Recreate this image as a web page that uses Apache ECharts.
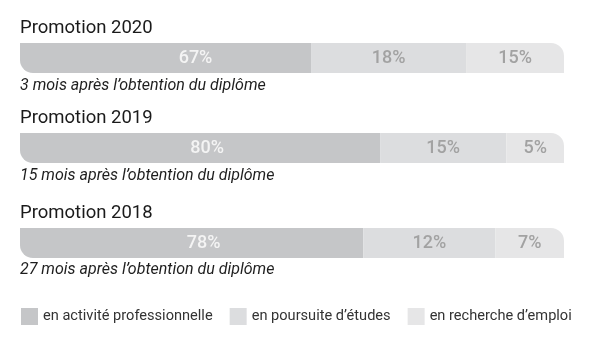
<!DOCTYPE html>
<html><head><meta charset="utf-8">
<script src="https://cdn.jsdelivr.net/npm/echarts@6/dist/echarts.min.js"></script>
<style>html,body{margin:0;padding:0;background:#fff}#c{width:605px;height:341px}</style>
</head><body><div id="c"></div>
<script>
// ---- data ----
const categories = ['Promotion 2020', 'Promotion 2019', 'Promotion 2018'];
const subtitles = ['3 mois après l\u2019obtention du diplôme', '15 mois après l\u2019obtention du diplôme', '27 mois après l\u2019obtention du diplôme'];
const seriesNames = ['en activité professionnelle', 'en poursuite d\u2019études', 'en recherche d\u2019emploi'];
// drawn segment lengths (share of bar)
const activite = [53.5, 66.2, 63.1];
const poursuite = [28.5, 23.2, 24.3];
const recherche = [18.0, 10.6, 12.6];
// printed labels
const activiteLabels = ['67%', '80%', '78%'];
const poursuiteLabels = ['18%', '15%', '12%'];
const rechercheLabels = ['15%', '5%', '7%'];

// ---- layout / style ----
const colors = ['#c5c6c8', '#dcdddf', '#e6e6e7'];
const labelColors = ['#f4f4f4', '#a2a2a2', '#a2a2a2'];
const gridTops = [43, 133, 228];
const titleTops = [19, 109, 204];
const subTops = [78, 168, 262];
const darkLabelShift = [30, 7, 12];
const FONT = 'Roboto';

const values = [activite, poursuite, recherche];
const labels = [activiteLabels, poursuiteLabels, rechercheLabels];
const radii = [[0, 0, 0, 13], [0, 0, 0, 0], [0, 13, 0, 0]];

const grid = [], xAxis = [], yAxis = [], series = [], title = [];
categories.forEach((cat, g) => {
  grid.push({left: 20, right: 41, top: gridTops[g], height: 30, containLabel: false});
  xAxis.push({gridIndex: g, type: 'value', min: 0, max: 100, show: false});
  yAxis.push({gridIndex: g, type: 'category', data: [cat], show: false});
  title.push({text: cat, left: 20, top: titleTops[g], padding: 0,
    textStyle: {fontFamily: FONT, fontSize: 18.5, fontWeight: 'normal', color: '#1a1a1a'}});
  title.push({text: subtitles[g], left: 20, top: subTops[g], padding: 0,
    textStyle: {fontFamily: FONT, fontSize: 16, fontStyle: 'italic', fontWeight: 'normal', color: '#1e1e1e'}});
  seriesNames.forEach((name, s) => {
    series.push({
      name, type: 'bar', stack: 'st' + g, xAxisIndex: g, yAxisIndex: g,
      barWidth: 30, silent: true,
      itemStyle: {color: colors[s]},
      label: {show: true, position: 'inside', formatter: labels[s][g],
        offset: [s === 0 ? darkLabelShift[g] : 0, 0],
        fontFamily: FONT, fontSize: 18, fontWeight: 500, color: labelColors[s]},
      data: [{value: values[s][g], itemStyle: {color: colors[s], borderRadius: radii[s]}}]
    });
  });
});

const chart = echarts.init(document.getElementById('c'), null, {renderer: 'canvas'});
chart.setOption({
  animation: false,
  title, grid, xAxis, yAxis, series,
  legend: {
    left: 21, top: 308, padding: 0, itemGap: 17, itemWidth: 17, itemHeight: 17,
    icon: 'rect', selectedMode: false,
    data: seriesNames.map((n, i) => ({name: n, itemStyle: {color: colors[i]}})),
    textStyle: {fontFamily: FONT, fontSize: 14.6, color: '#333'}
  }
});
</script></body></html>
